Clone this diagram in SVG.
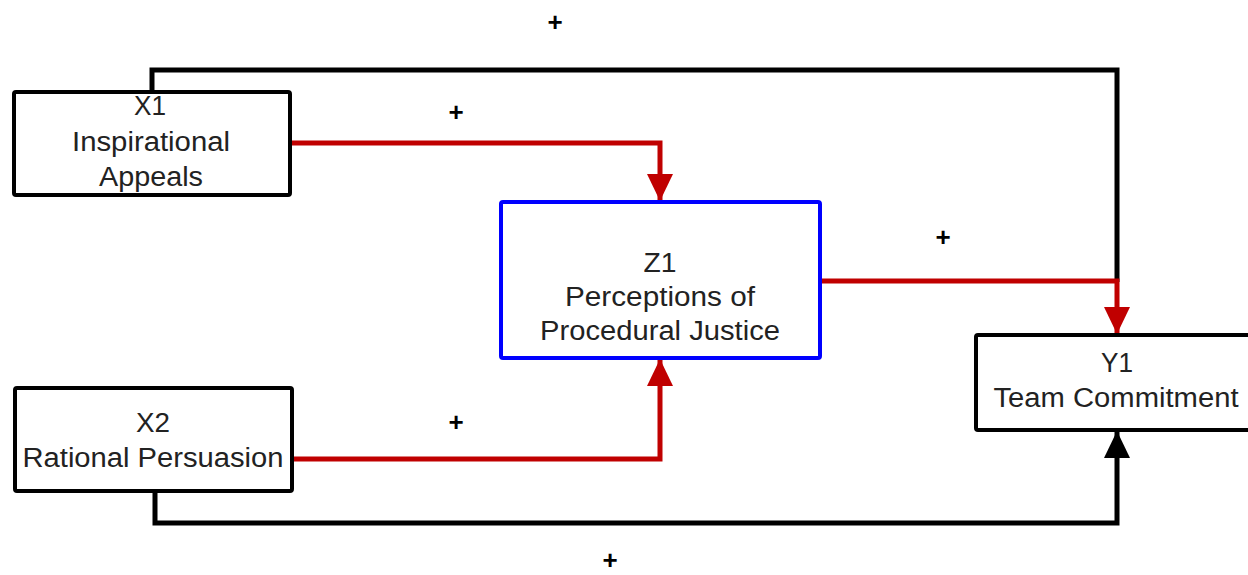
<svg xmlns="http://www.w3.org/2000/svg" width="1248" height="575" viewBox="0 0 1248 575">
<style>
.box{fill:#fff;stroke:#000;stroke-width:4}
.zbox{fill:#fff;stroke:#0000ff;stroke-width:4}
.lbl{font-family:"Liberation Sans",Arial,sans-serif;font-size:27px;fill:#222;text-anchor:middle}
.plus{font-family:"Liberation Sans",Arial,sans-serif;font-size:26px;font-weight:bold;fill:#000;text-anchor:middle}
.red{fill:none;stroke:#c00000;stroke-width:5}
.blk{fill:none;stroke:#000;stroke-width:5}
</style>
<defs>
<marker id="ar" markerUnits="userSpaceOnUse" viewBox="0 0 27 26" refX="27" refY="13" markerWidth="27" markerHeight="26" orient="auto"><path d="M0,0 L27,13 L0,26 Z" fill="#c00000"/></marker>
<marker id="ab" markerUnits="userSpaceOnUse" viewBox="0 0 27 26" refX="27" refY="13" markerWidth="27" markerHeight="26" orient="auto"><path d="M0,0 L27,13 L0,26 Z" fill="#000"/></marker>
</defs>
<rect width="1248" height="575" fill="#fff"/>
<g id="connectors">
<path class="blk" d="M152,92 V70 H1117 V282"/>
<path class="blk" d="M155,491 V523 H1117 V431" marker-end="url(#ab)"/>
<path class="red" d="M290,143 H660 V201" marker-end="url(#ar)"/>
<path class="red" d="M292,459 H660 V359" marker-end="url(#ar)"/>
<path class="red" d="M820,281 H1117 V334" marker-end="url(#ar)"/>
</g>
<g id="X1">
<rect class="box" x="14" y="92" width="276" height="103" rx="2"/>
<text class="lbl" x="150" y="115" textLength="32" lengthAdjust="spacingAndGlyphs">X1</text>
<text class="lbl" x="151" y="151" textLength="158" lengthAdjust="spacingAndGlyphs">Inspirational</text>
<text class="lbl" x="151" y="186" textLength="104" lengthAdjust="spacingAndGlyphs">Appeals</text>
</g>
<g id="X2">
<rect class="box" x="15" y="388" width="277" height="103" rx="2"/>
<text class="lbl" x="153" y="432" textLength="34" lengthAdjust="spacingAndGlyphs">X2</text>
<text class="lbl" x="153" y="467" textLength="261" lengthAdjust="spacingAndGlyphs">Rational Persuasion</text>
</g>
<g id="Z1">
<rect class="zbox" x="501" y="202" width="319" height="156" rx="2"/>
<text class="lbl" x="660" y="272" textLength="33" lengthAdjust="spacingAndGlyphs">Z1</text>
<text class="lbl" x="660" y="306" textLength="190" lengthAdjust="spacingAndGlyphs">Perceptions of</text>
<text class="lbl" x="660" y="340" textLength="240" lengthAdjust="spacingAndGlyphs">Procedural Justice</text>
</g>
<g id="Y1">
<rect class="box" x="976" y="335" width="280" height="95" rx="2"/>
<text class="lbl" x="1117" y="372" textLength="32" lengthAdjust="spacingAndGlyphs">Y1</text>
<text class="lbl" x="1116" y="407" textLength="245" lengthAdjust="spacingAndGlyphs">Team Commitment</text>
</g>
<g id="signs">
<text class="plus" x="555" y="31">+</text>
<text class="plus" x="456" y="121">+</text>
<text class="plus" x="943" y="246">+</text>
<text class="plus" x="456" y="431">+</text>
<text class="plus" x="610" y="569">+</text>
</g>
</svg>
